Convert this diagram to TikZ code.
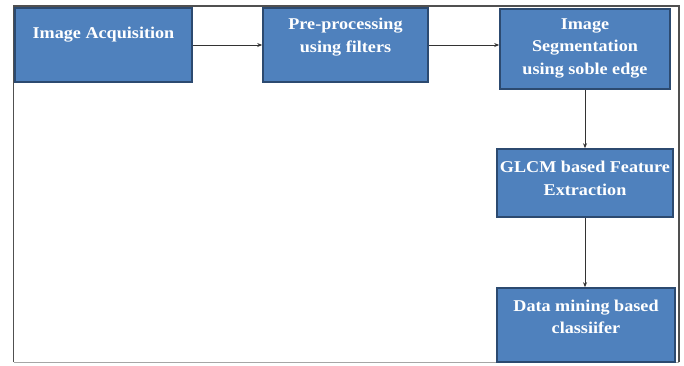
\documentclass[tikz,border=0pt]{standalone}
\usepackage{fontspec}
\setmainfont{Liberation Serif}[FakeStretch=1.1]
\usetikzlibrary{arrows.meta,shadows}
\definecolor{boxfill}{HTML}{4F81BD}
\definecolor{boxline}{HTML}{2C4A70}
\definecolor{framec}{HTML}{505050}
\tikzset{
  stagebox/.style={rectangle, draw=boxline, line width=1.6pt, fill=boxfill, inner sep=0pt,
    drop shadow={shadow xshift=1pt, shadow yshift=-1pt, fill=black!35, opacity=0.6}},
  stagetext/.style={text=white, font=\bfseries\fontsize{16.5}{22.5}\selectfont, align=center, inner sep=0pt},
  flow/.style={draw=black!80, line width=0.8pt, -{Stealth[length=5pt,width=4pt]}}
}
\begin{document}
\begin{tikzpicture}[x=1pt,y=-1pt]
\useasboundingbox (0,0) rectangle (684,365);
% frame
\draw[framec, line width=1.5pt] (13.5,362) -- (13.5,6) -- (679,6) -- (679,362);
\draw[black!35, line width=1pt] (13.5,362) -- (679,362);
% boxes
\node[stagebox, minimum width=177pt, minimum height=74pt] (b1) at (103.5,45) {};
\node[stagebox, minimum width=165pt, minimum height=74pt] (b2) at (345.5,45) {};
\node[stagebox, minimum width=170pt, minimum height=80pt] (b3) at (585,49) {};
\node[stagebox, minimum width=176pt, minimum height=68pt] (b4) at (585,183) {};
\node[stagebox, minimum width=178pt, minimum height=74pt] (b5) at (586,325) {};
% texts
\node[stagetext] (t1) at (103.5,35) {Image Acquisition};
\node[stagetext] (t2) at (345.5,37) {Pre-processing\\using filters};
\node[stagetext] (t3) at (585,48) {Image\\Segmentation\\using soble edge};
\node[stagetext] (t4) at (585,178.5) {GLCM based Feature\\Extraction};
\node[stagetext] (t5) at (586,317) {Data mining based\\classiifer};
% connectors
\draw[flow] (b1.east) -- (b2.west);
\draw[flow] (b2.east) -- (b2.east -| b3.west);
\draw[flow] (b3.south) -- (b4.north);
\draw[flow] (b4.south) -- (b4.south |- b5.north);
\end{tikzpicture}
\end{document}
